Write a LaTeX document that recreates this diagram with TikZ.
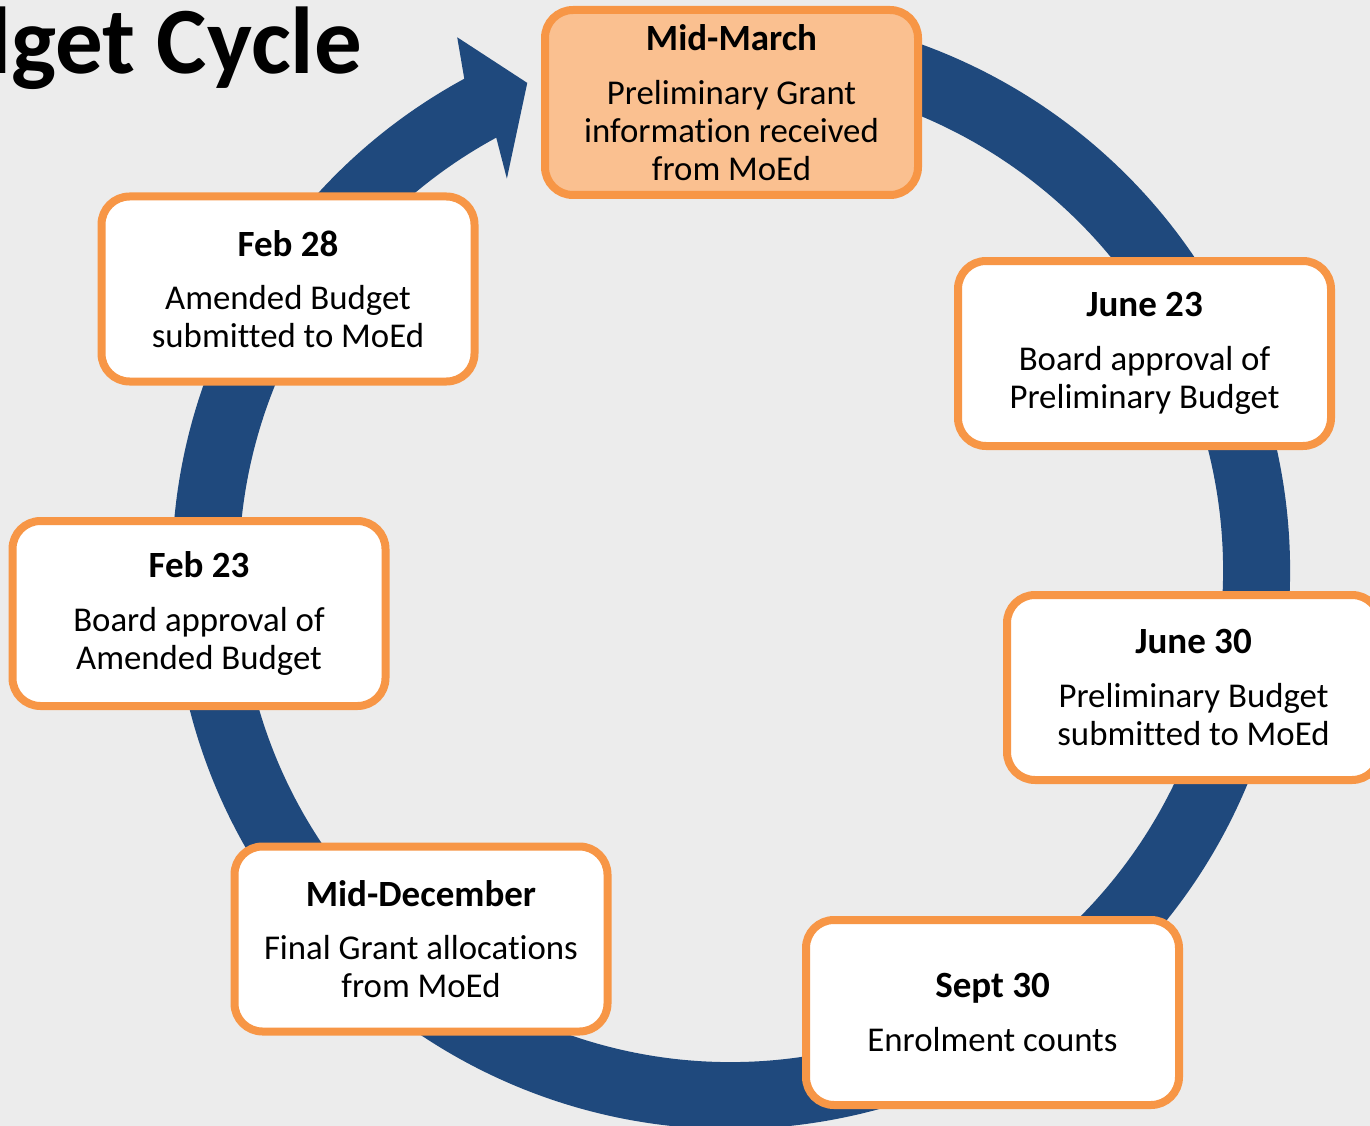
\documentclass[tikz,border=0pt]{standalone}
\usepackage{fontspec}
\setmainfont{Carlito}[Ligatures=NoCommon]
\usetikzlibrary{calc}
\definecolor{bgC}{HTML}{ECECEC}
\definecolor{ringC}{HTML}{1F497D}
\definecolor{orangeC}{HTML}{F79646}
\definecolor{peachC}{HTML}{FAC090}
\tikzset{
  stepbox/.style={draw=orangeC, line width=8pt, rounded corners=28pt, fill=white,
    minimum width=373pt, minimum height=185pt, inner sep=0pt, align=center,
    font=\fontsize{34.8}{37.8}\selectfont},
  hotbox/.style={stepbox, fill=peachC},
  ring/.style={draw=ringC, line width=67pt},
  ringhead/.style={fill=ringC, draw=none},
  titletext/.style={font=\fontsize{95}{95}\selectfont\bfseries, anchor=base east, inner sep=0pt}
}
\newcommand{\hdr}[1]{{\fontsize{37}{37.8}\selectfont\bfseries #1}\\[16pt]}
\begin{document}
\begin{tikzpicture}[x=1pt,y=1pt]
\useasboundingbox (0,0) rectangle (1370,-1126);
\clip (0,0) rectangle (1370,-1126);
\fill[bgC] (0,0) rectangle (1370,-1126);
\coordinate (c) at (731,-570);
% ring
\draw[ring] ($(c)+(100:525.5pt)$) arc[start angle=100, end angle=-242.2, radius=525.5pt];
\fill[ringhead] ($(c)+(118.5:559pt)$) -- ($(c)+(117.2:599pt)$) -- ($(c)+(112.7:528pt)$)
  -- ($(c)+(119.8:451pt)$) -- ($(c)+(118.5:492pt)$) -- cycle;
% title
\node[titletext] (title) at (362,-74) {Budget Cycle};
% boxes
\node[hotbox] (mar) at (731.5,-102.5) {\hdr{Mid-March}Preliminary Grant\\information received\\from MoEd};
\node[stepbox] (jun23) at (1144.5,-353.5) {\hdr{June 23}Board approval of\\Preliminary Budget};
\node[stepbox] (jun30) at (1193.5,-687.5) {\hdr{June 30}Preliminary Budget\\submitted to MoEd};
\node[stepbox] (sep30) at (992.5,-1012.5) {\hdr{Sept 30}Enrolment counts};
\node[stepbox] (dec) at (421,-939) {\hdr{Mid-December}Final Grant allocations\\from MoEd};
\node[stepbox] (feb23) at (199,-613.5) {\hdr{Feb 23}Board approval of\\Amended Budget};
\node[stepbox] (feb28) at (288,-289) {\hdr{Feb 28}Amended Budget\\submitted to MoEd};
\end{tikzpicture}
\end{document}
